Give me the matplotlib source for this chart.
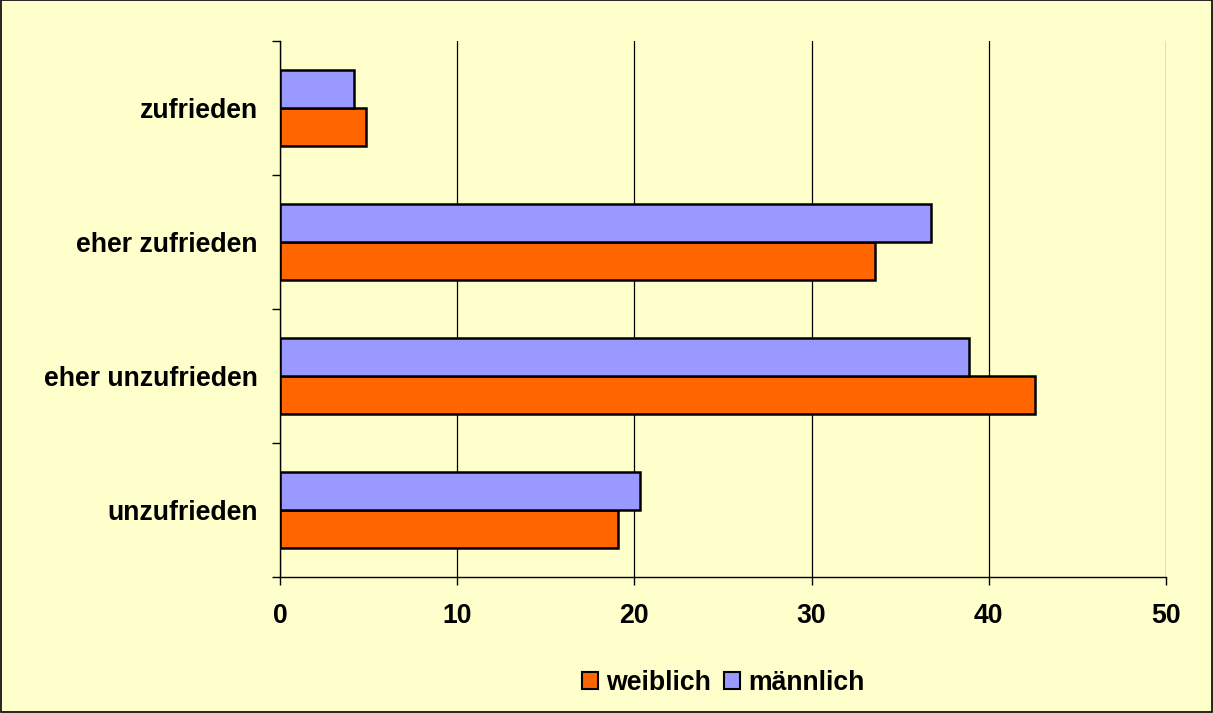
import matplotlib
matplotlib.use("Agg")
import matplotlib.pyplot as plt
import numpy as np
from matplotlib.patches import Patch

categories = ["unzufrieden", "eher unzufrieden", "eher zufrieden", "zufrieden"]
weiblich = [19.08, 42.62, 33.56, 4.86]
maennlich = [20.34, 38.87, 36.72, 4.18]
xticks = [0, 10, 20, 30, 40, 50]
series_names = ["weiblich", "männlich"]

plt.rcParams['font.family'] = ['Liberation Sans', 'DejaVu Sans']
bg = "#FFFFCC"
c_w = "#FF6600"
c_m = "#9999FF"
fs = 19.2

fig = plt.figure(figsize=(12.13, 7.13), dpi=100, facecolor=bg)
ax = fig.add_axes([280/1213, 1-577/713, 886/1213, 536/713])
ax.set_facecolor(bg)

y = np.arange(len(categories))
h = 0.284
ax.barh(y - h/2, weiblich, height=h, color=c_w, edgecolor="black", linewidth=1.8, zorder=3)
ax.barh(y + h/2, maennlich, height=h, color=c_m, edgecolor="black", linewidth=1.8, zorder=3)

ax.set_xlim(0, 50)
ax.set_ylim(-0.5, len(categories) - 0.5)
ax.set_xticks(xticks)
ax.set_xticklabels([str(t) for t in xticks], fontsize=fs, fontweight="bold")
ax.xaxis.grid(True, color="black", linewidth=0.9, zorder=0)
ax.tick_params(axis="x", length=6, width=1, color="black", pad=13)

ax.set_yticks(np.arange(-0.5, len(categories), 1.0))
ax.set_yticklabels([])
ax.set_yticks(y, minor=True)
ax.set_yticklabels(categories, minor=True, fontsize=fs, fontweight="bold")
ax.tick_params(axis="y", which="major", length=6, width=1, color="black")
ax.tick_params(axis="y", which="minor", length=0, pad=16)

for s in ["top", "right"]:
    ax.spines[s].set_visible(False)
for s in ["left", "bottom"]:
    ax.spines[s].set_color("black")
    ax.spines[s].set_linewidth(1)
    ax.spines[s].set_zorder(4)

handles = [Patch(facecolor=c_w, edgecolor="black", linewidth=1.5),
           Patch(facecolor=c_m, edgecolor="black", linewidth=1.5)]
fig.legend(handles, series_names, loc="center", bbox_to_anchor=(723/1213, 1-683/713),
           ncol=2, frameon=False, prop={"weight": "bold", "size": fs},
           handlelength=0.6, handleheight=0.6, handletextpad=0.3, columnspacing=0.5)

border = plt.Rectangle((0.0005, 0.0008), 0.999, 0.9985, transform=fig.transFigure,
                       fill=False, edgecolor="black", linewidth=1.2)
fig.patches.append(border)

fig.savefig("out.png", dpi=100, facecolor=bg)
